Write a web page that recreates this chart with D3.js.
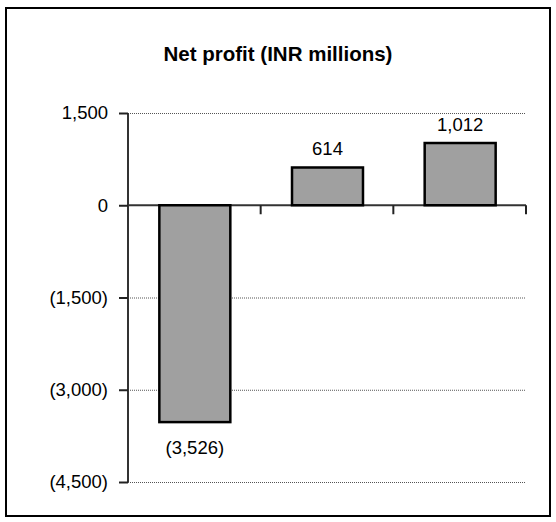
<!DOCTYPE html>
<html>
<head>
<meta charset="utf-8">
<script src="https://cdn.jsdelivr.net/npm/d3@7"></script>
<style>
  html, body { margin: 0; padding: 0; background: #fff; }
  svg { display: block; font-family: "Liberation Sans", Arial, sans-serif; }
</style>
</head>
<body>
<svg id="chart" width="556" height="522"></svg>
<script>
// Net profit by period, INR millions
const categories = ["P1", "P2", "P3"];
const netProfit = [-3526, 614, 1012];
const tickValues = [1500, 0, -1500, -3000, -4500];

const svg = d3.select("#chart");
const W = 556, H = 522;
const plot = { left: 128, right: 526, top: 113, bottom: 482 };

// outer frame
svg.append("rect")
  .attr("x", 6).attr("y", 8)
  .attr("width", W - 12).attr("height", H - 14)
  .attr("fill", "#fff").attr("stroke", "#000").attr("stroke-width", 2);

svg.append("text")
  .attr("x", 278).attr("y", 61)
  .attr("text-anchor", "middle")
  .attr("font-weight", "bold").attr("font-size", 20.5)
  .text("Net profit (INR millions)");

const x = d3.scaleBand().domain(categories)
  .range([plot.left, plot.right]).paddingInner(0).paddingOuter(0);
const y = d3.scaleLinear().domain([-4500, 1500]).range([plot.bottom, plot.top]);

const fmt = v => v < 0 ? "(" + d3.format(",")(-v) + ")" : d3.format(",")(v);

// dotted gridlines
svg.append("g").selectAll("line")
  .data(tickValues.filter(v => v !== 0))
  .join("line")
  .attr("x1", plot.left).attr("x2", plot.right)
  .attr("y1", d => y(d) + 0.5).attr("y2", d => y(d) + 0.5)
  .attr("stroke", "#555").attr("stroke-width", 1)
  .attr("stroke-dasharray", "1,1");

// y axis
const yAxis = svg.append("g")
  .attr("transform", `translate(${plot.left},0)`)
  .call(d3.axisLeft(y).tickValues(tickValues).tickFormat(fmt).tickSize(9).tickPadding(11));
yAxis.select(".domain").attr("stroke", "#333").attr("stroke-width", 2)
  .attr("d", `M0,${y(1500)}V${y(-4500)}`);
yAxis.selectAll(".tick line").attr("stroke", "#222").attr("stroke-width", 2);
yAxis.selectAll(".tick text")
  .attr("font-size", 18.5).attr("fill", "#000")
  .attr("font-family", "Liberation Sans, Arial, sans-serif");

// x axis at zero with boundary ticks
const xg = svg.append("g");
xg.append("line")
  .attr("x1", plot.left).attr("x2", plot.right)
  .attr("y1", y(0)).attr("y2", y(0))
  .attr("stroke", "#333").attr("stroke-width", 2);
xg.selectAll(".xt")
  .data(categories)
  .join("line")
  .attr("x1", d => x(d) + x.bandwidth()).attr("x2", d => x(d) + x.bandwidth())
  .attr("y1", y(0)).attr("y2", y(0) + 9)
  .attr("stroke", "#222").attr("stroke-width", 2);

// bars
const barW = x.bandwidth() * 0.535;
svg.append("g").selectAll("rect")
  .data(netProfit)
  .join("rect")
  .attr("x", (d, i) => x(categories[i]) + (x.bandwidth() - barW) / 2 + 0.5)
  .attr("width", barW)
  .attr("y", d => y(Math.max(0, d)))
  .attr("height", d => Math.abs(y(d) - y(0)))
  .attr("fill", "#a0a0a0")
  .attr("stroke", "#000").attr("stroke-width", 2.5);

// value labels
svg.append("g").selectAll("text")
  .data(netProfit)
  .join("text")
  .attr("x", (d, i) => x(categories[i]) + x.bandwidth() / 2 + 0.5)
  .attr("y", d => d >= 0 ? y(d) - 12 : y(d) + 32)
  .attr("text-anchor", "middle")
  .attr("font-size", 18.5)
  .text(fmt);
</script>
</body>
</html>
